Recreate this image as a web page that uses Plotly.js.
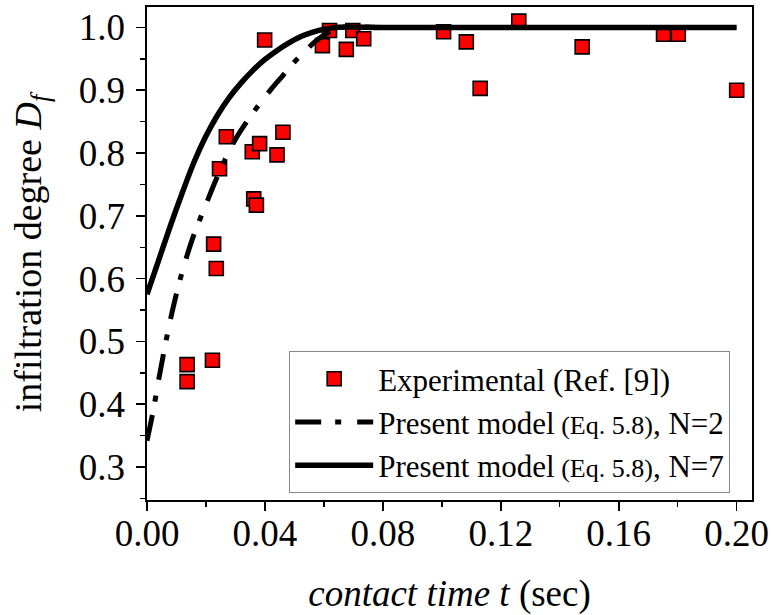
<!DOCTYPE html>
<html>
<head>
<meta charset="utf-8">
<script src="https://cdn.plot.ly/plotly-3.0.1.min.js"></script>
<style>html,body{margin:0;padding:0;background:#fff;}#chart{width:771px;height:615px;}</style>
</head>
<body>
<div id="chart"></div>
<script>
// Experimental data (Ref. [9])
const expT = [0.0136, 0.0136, 0.0222, 0.0226, 0.0235, 0.0246, 0.0269, 0.0357, 0.0362, 0.0371, 0.0382, 0.0399, 0.0441, 0.0461, 0.0595, 0.0619, 0.0676, 0.0698, 0.0735, 0.1006, 0.1083, 0.1130, 0.1261, 0.1476, 0.1752, 0.1802, 0.2000];
const expD = [0.463, 0.436, 0.470, 0.655, 0.616, 0.775, 0.826, 0.802, 0.727, 0.717, 0.815, 0.980, 0.797, 0.833, 0.971, 0.995, 0.965, 0.995, 0.982, 0.993, 0.977, 0.903, 1.010, 0.969, 0.989, 0.989, 0.900];

// Present model (Eq. 5.8), N=2 (dash-dot)
const n2T = [0, 0.002, 0.004, 0.006, 0.008, 0.010, 0.012, 0.014, 0.016, 0.018, 0.020, 0.023, 0.026, 0.030, 0.034, 0.038, 0.042, 0.046, 0.050, 0.054, 0.058, 0.062, 0.066, 0.080, 0.100, 0.150, 0.200];
const n2D = [0.342, 0.387, 0.440, 0.490, 0.536, 0.576, 0.612, 0.643, 0.671, 0.695, 0.718, 0.753, 0.785, 0.822, 0.851, 0.877, 0.901, 0.923, 0.945, 0.964, 0.981, 0.993, 1.000, 1.000, 1.000, 1.000, 1.000];

// Present model (Eq. 5.8), N=7 (solid)
const n7T = [0, 0.004, 0.008, 0.012, 0.016, 0.020, 0.024, 0.028, 0.032, 0.036, 0.040, 0.044, 0.048, 0.052, 0.056, 0.060, 0.064, 0.080, 0.100, 0.150, 0.200];
const n7D = [0.575, 0.630, 0.685, 0.737, 0.786, 0.827, 0.861, 0.889, 0.912, 0.932, 0.949, 0.963, 0.975, 0.985, 0.992, 0.997, 1.000, 1.000, 1.000, 1.000, 1.000];

const xTickVals = [0, 0.04, 0.08, 0.12, 0.16, 0.20];
const xTickText = ['0.00', '0.04', '0.08', '0.12', '0.16', '0.20'];
const yTickVals = [0.3, 0.4, 0.5, 0.6, 0.7, 0.8, 0.9, 1.0];
const yTickText = ['0.3', '0.4', '0.5', '0.6', '0.7', '0.8', '0.9', '1.0'];

const FONT = "'Liberation Serif', 'Times New Roman', serif";

const traces = [
  {
    x: expT, y: expD, type: 'scatter', mode: 'markers',
    name: 'Experimental (Ref. [9])',
    marker: {symbol: 'square', size: 14, color: '#ff0000', line: {color: '#000', width: 1.6}}
  },
  {
    x: n2T, y: n2D, type: 'scatter', mode: 'lines',
    name: 'Present model<span style="font-size:26px"> (Eq. 5.8)</span>, N=2',
    line: {color: '#000', width: 5, dash: '26px,14px,6px,16px', shape: 'spline', smoothing: 1}
  },
  {
    x: n7T, y: n7D, type: 'scatter', mode: 'lines',
    name: 'Present model<span style="font-size:26px"> (Eq. 5.8)</span>, N=7',
    line: {color: '#000', width: 5.5, shape: 'spline', smoothing: 1}
  }
];

const layout = {
  width: 771, height: 615,
  margin: {l: 147, r: 19, t: 7, b: 115},
  paper_bgcolor: '#fff', plot_bgcolor: '#fff',
  font: {family: FONT, color: '#000', size: 37},
  showlegend: true,
  legend: {
    x: 0.235, y: 0.302, xanchor: 'left', yanchor: 'top',
    bgcolor: '#fff', bordercolor: '#888', borderwidth: 1,
    font: {family: FONT, size: 31, color: '#000'},
    tracegroupgap: 0, itemwidth: 78
  },
  xaxis: {
    range: [0, 0.2052],
    tickvals: xTickVals, ticktext: xTickText,
    ticks: 'outside', ticklen: 9, tickwidth: 1.6, tickcolor: '#000',
    ticklabelstandoff: -9,
    minor: {dtick: 0.02, tick0: 0, ticks: 'outside', ticklen: 5, tickwidth: 1.4, tickcolor: '#000'},
    showline: true, linecolor: '#000', linewidth: 1.6, mirror: true,
    showgrid: false, zeroline: false,
    tickfont: {family: FONT, size: 37, color: '#000'},
    title: {text: '<i>contact time t</i> (sec)', font: {family: FONT, size: 37, color: '#000'}, standoff: 41}
  },
  yaxis: {
    range: [0.2475, 1.0325],
    tickvals: yTickVals, ticktext: yTickText,
    ticks: 'outside', ticklen: 9, tickwidth: 1.6, tickcolor: '#000',
    ticklabelstandoff: 4,
    minor: {dtick: 0.05, tick0: 0.25, ticks: 'outside', ticklen: 5, tickwidth: 1.4, tickcolor: '#000'},
    showline: true, linecolor: '#000', linewidth: 1.6, mirror: true,
    showgrid: false, zeroline: false,
    tickfont: {family: FONT, size: 37, color: '#000'},
    title: {text: 'infiltration degree <i>D</i><sub><i>f</i></sub>', font: {family: FONT, size: 38, color: '#000'}, standoff: 25}
  }
};

Plotly.newPlot('chart', traces, layout, {staticPlot: true, displayModeBar: false});
</script>
</body>
</html>
